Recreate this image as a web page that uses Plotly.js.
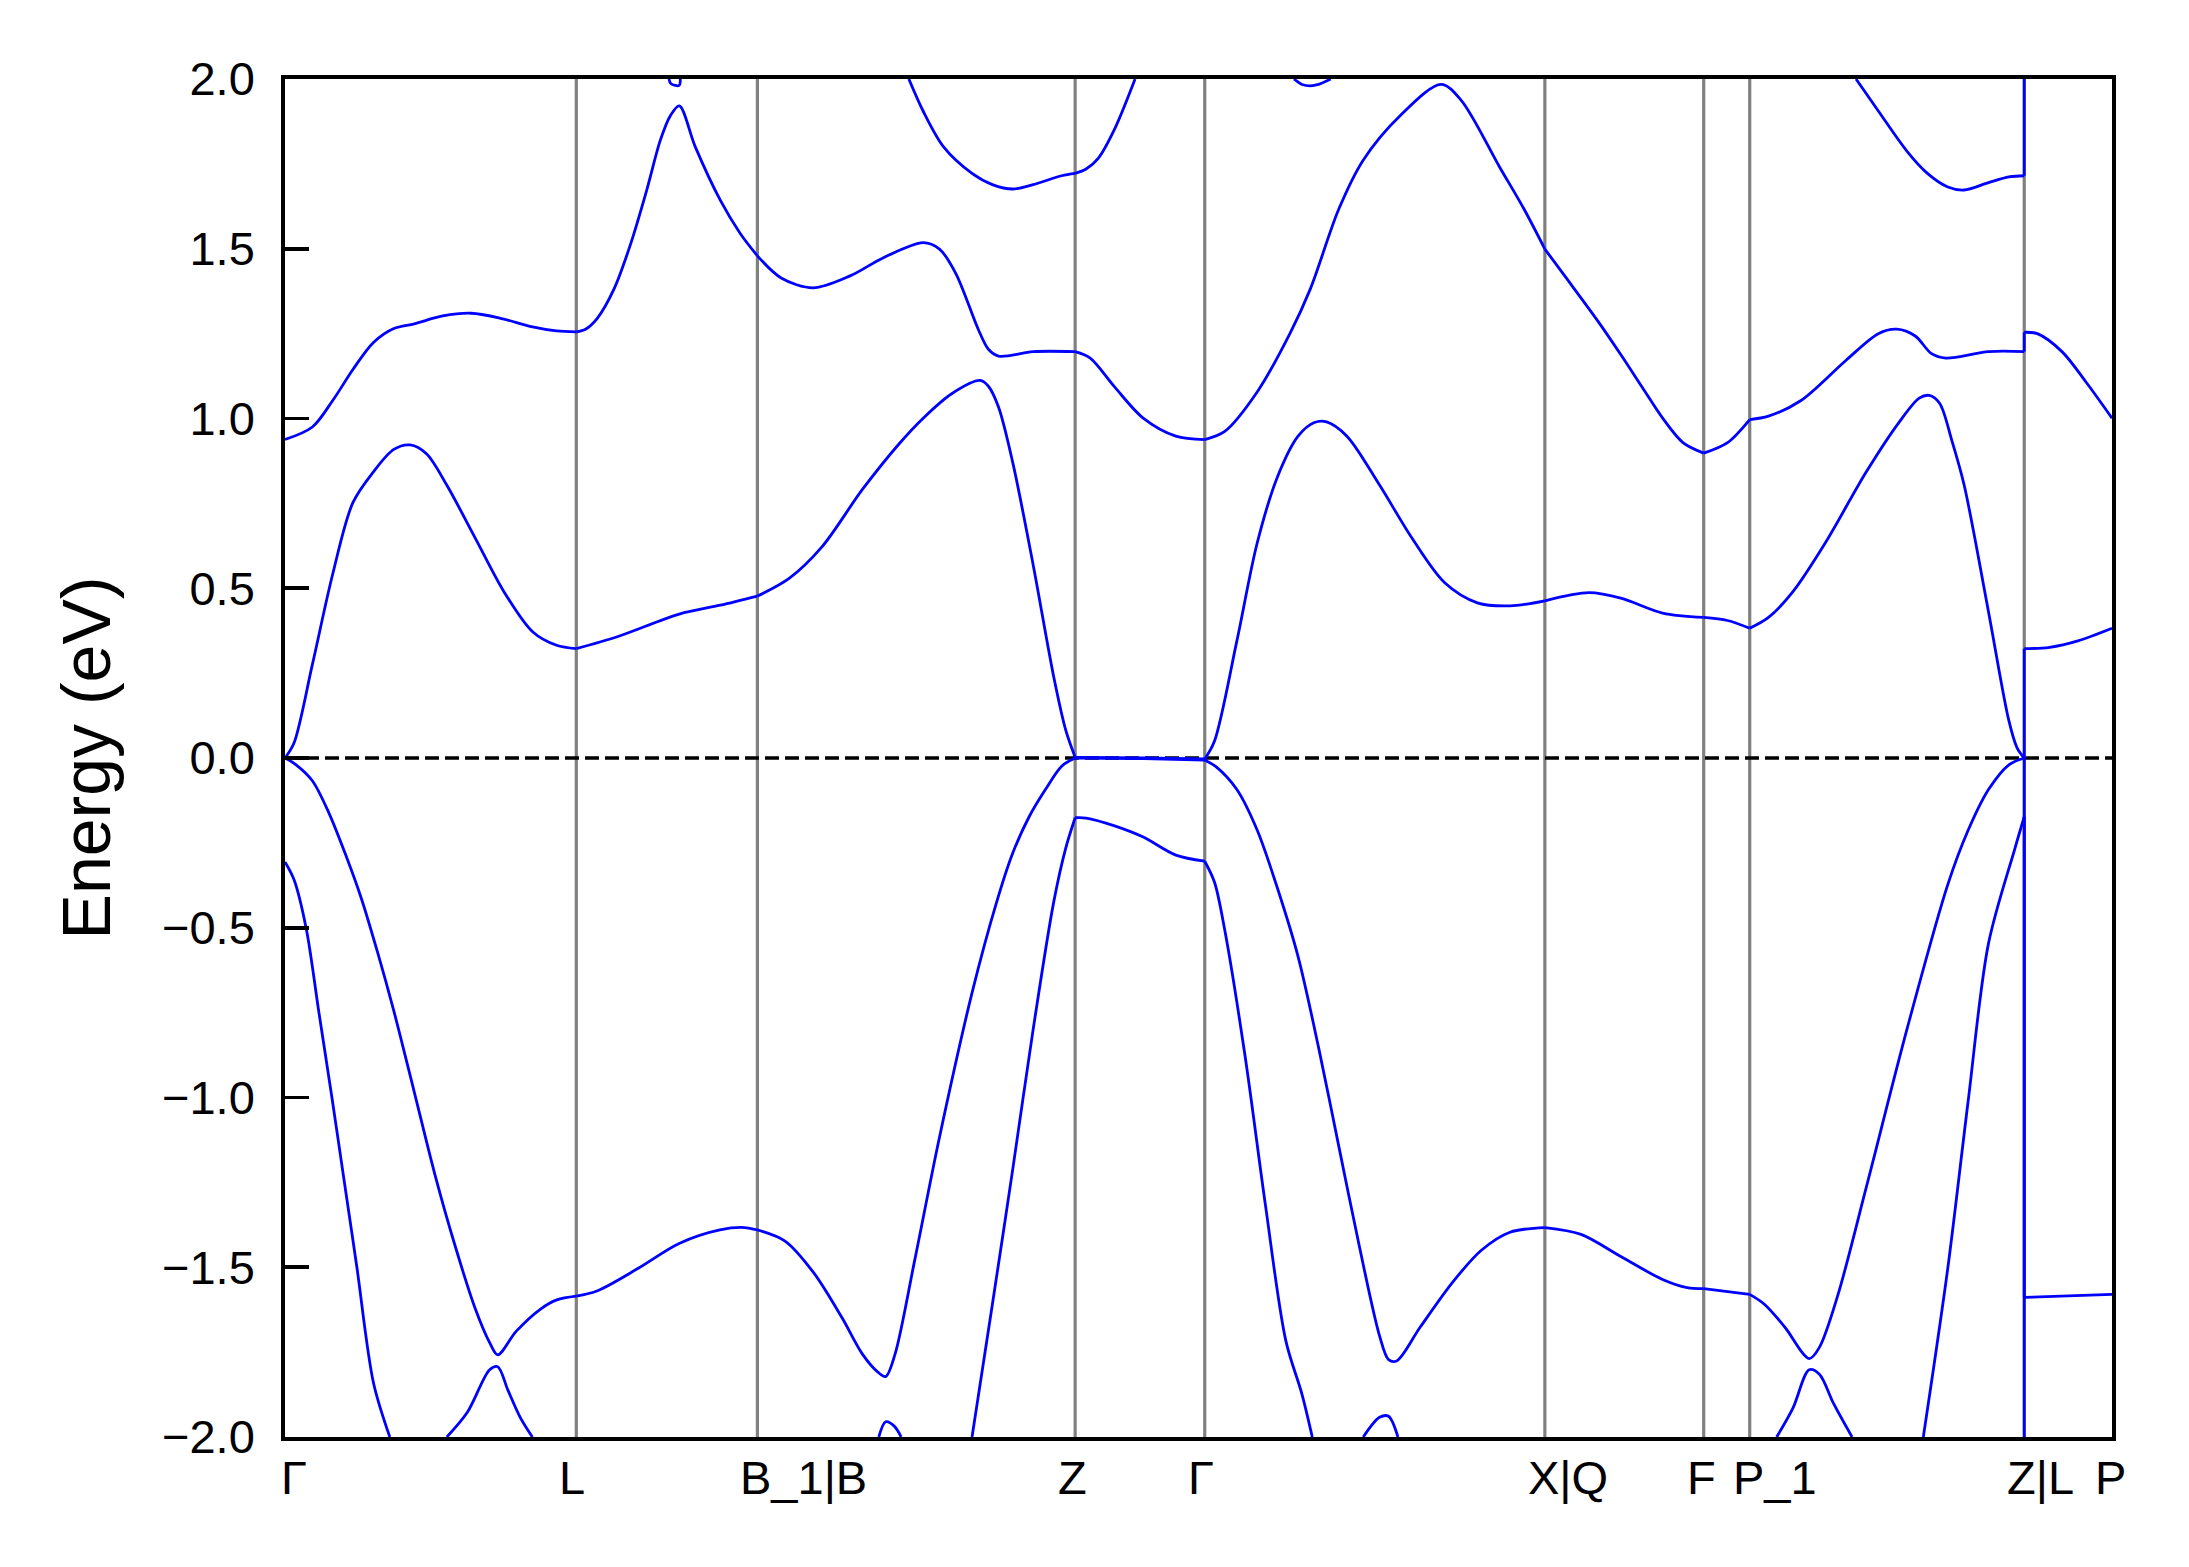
<!DOCTYPE html>
<html>
<head>
<meta charset="utf-8">
<script src="https://cdn.plot.ly/plotly-3.0.1.min.js"></script>
<style>html,body{margin:0;padding:0;background:#fff}#chart{width:2189px;height:1567px}</style>
</head>
<body>
<div id="chart"></div>
<script>
// High-symmetry k-points (path distance) and their labels
const kTicks = [0, 0.2918, 0.4732, 0.7915, 0.9213, 1.2620, 1.4211, 1.4672, 1.7422, 1.8301];
const kLabels = ["Γ", "L", "B_1|B", "Z", "Γ", "X|Q", "F", "P_1", "Z|L", "P"];

// Band energies (eV); null = band leaves the -2..2 eV window
const cb3K = [0.3846, 0.3866, 0.3948, 0.3960, null,
  0.6249, 0.6393, 0.6597, 0.6882, 0.7086, 0.729, 0.7495, 0.778, 0.7915, 0.8025, 0.8148, 0.8311, 0.8515, null,
  1.0107, 1.0188, 1.027, 1.0352, 1.0474, null,
  1.5737, 1.5962, 1.6248, 1.6452, 1.6656, 1.6819, 1.7064, 1.7268, 1.7422, 1.7422];
const cb3E = [2.0, 1.986, 1.981, 2.0, null,
  2.0, 1.905, 1.800, 1.722, 1.689, 1.676, 1.689, 1.715, 1.722, 1.735, 1.767, 1.853, 2.0, null,
  2.0, 1.984, 1.980, 1.984, 2.0, null,
  2.0, 1.905, 1.787, 1.722, 1.682, 1.673, 1.695, 1.712, 1.715, 2.0];

const cb2K = [0, 0.0274, 0.0478, 0.0682, 0.0886, 0.109, 0.1295, 0.158, 0.1866, 0.215, 0.248, 0.272, 0.2918,
  0.301, 0.313, 0.3295, 0.346, 0.362, 0.376, 0.386, 0.395, 0.411, 0.436, 0.456, 0.4732,
  0.497, 0.529, 0.566, 0.599, 0.6393, 0.6556, 0.672, 0.6944, 0.7046, 0.7148, 0.7495, 0.7915,
  0.8066, 0.831, 0.8597, 0.8923, 0.9213,
  0.9413, 0.974, 1.0066, 1.027, 1.0556, 1.08, 1.117, 1.158, 1.178, 1.2166, 1.2411, 1.262,
  1.2819, 1.3146, 1.339, 1.3595, 1.38, 1.4003, 1.4211, 1.445, 1.4672,
  1.486, 1.5186, 1.5635, 1.596, 1.6146, 1.633, 1.6493, 1.6635, 1.7064, 1.7422,
  1.7422, 1.7553, 1.78, 1.8044, 1.8301];
const cb2E = [0.938, 0.975, 1.053, 1.145, 1.224, 1.265, 1.279, 1.302, 1.310, 1.296, 1.270, 1.258, 1.255,
  1.263, 1.296, 1.381, 1.512, 1.669, 1.820, 1.892, 1.921, 1.800, 1.643, 1.545, 1.479,
  1.414, 1.385, 1.420, 1.473, 1.518, 1.499, 1.427, 1.263, 1.204, 1.184, 1.197, 1.197,
  1.178, 1.093, 1.001, 0.948, 0.938,
  0.962, 1.079, 1.250, 1.381, 1.617, 1.761, 1.892, 1.984, 1.938, 1.741, 1.617, 1.499,
  1.420, 1.289, 1.184, 1.092, 1.001, 0.929, 0.898, 0.929, 0.997,
  1.007, 1.053, 1.171, 1.250, 1.263, 1.243, 1.191, 1.178, 1.197, 1.197,
  1.254, 1.250, 1.197, 1.106, 1.001];

const cb1K = [0, 0.009, 0.0274, 0.0478, 0.068, 0.0886, 0.109, 0.1254, 0.1417, 0.162, 0.1907, 0.2193, 0.248, 0.272, 0.2918,
  0.3335, 0.395, 0.436, 0.4732,
  0.505, 0.5376, 0.5784, 0.615, 0.6393, 0.6678, 0.6964, 0.7046, 0.7148, 0.729, 0.7495, 0.7699, 0.782, 0.7915,
  0.86, 0.9213,
  0.9311, 0.9535, 0.9739, 0.9944, 1.0148, 1.0311, 1.0433, 1.0637, 1.0964, 1.129, 1.1617, 1.1944, 1.227, 1.262,
  1.3064, 1.339, 1.38, 1.4211, 1.445, 1.4672,
  1.486, 1.5105, 1.543, 1.584, 1.6166, 1.637, 1.647, 1.6574, 1.6697, 1.682, 1.706, 1.7268, 1.735, 1.7422,
  1.7422, 1.7676, 1.796, 1.8301];
const cb1E = [0, 0.044, 0.275, 0.542, 0.752, 0.843, 0.909, 0.922, 0.896, 0.804, 0.647, 0.490, 0.372, 0.332, 0.322,
  0.358, 0.424, 0.450, 0.477,
  0.529, 0.621, 0.791, 0.925, 1.001, 1.073, 1.112, 1.095, 1.033, 0.870, 0.568, 0.241, 0.083, 0.002,
  0.0, -0.003,
  0.05, 0.345, 0.634, 0.830, 0.948, 0.988, 0.990, 0.948, 0.804, 0.647, 0.516, 0.457, 0.448, 0.463,
  0.487, 0.470, 0.427, 0.414, 0.405, 0.382,
  0.414, 0.490, 0.634, 0.843, 0.988, 1.060, 1.068, 1.045, 0.935, 0.804, 0.437, 0.11, 0.03, 0.0,
  0.322, 0.326, 0.345, 0.382];

const vbK = [0, 0.0111, 0.0274, 0.0437, 0.0601, 0.0764, 0.0927, 0.109, 0.1295, 0.1499, 0.1703, 0.1907, 0.205, 0.2131,
  0.2315, 0.256, 0.2723, 0.2918,
  0.3131, 0.3539, 0.3948, 0.4356, 0.4601, 0.4732,
  0.5009, 0.5295, 0.558, 0.5784, 0.5939, 0.6017, 0.6111, 0.631, 0.6556, 0.6882, 0.7127, 0.729, 0.7454, 0.7617, 0.778, 0.7915,
  0.86, 0.9213,
  0.9331, 0.9535, 0.9739, 0.9944, 1.0148, 1.0352, 1.0556, 1.076, 1.0964, 1.1054, 1.1135, 1.1372, 1.1699, 1.1984, 1.227, 1.262,
  1.2982, 1.339, 1.3799, 1.4044, 1.4211, 1.4672,
  1.4819, 1.5023, 1.5268, 1.537, 1.5554, 1.584, 1.6248, 1.6656, 1.686, 1.7064, 1.7268, 1.7422,
  1.7422, 1.8301];
const vbE = [0, -0.020, -0.067, -0.160, -0.280, -0.413, -0.572, -0.745, -0.984, -1.224, -1.436, -1.623, -1.722, -1.758,
  -1.689, -1.623, -1.596, -1.585,
  -1.569, -1.503, -1.430, -1.390, -1.383, -1.390,
  -1.423, -1.516, -1.649, -1.756, -1.809, -1.822, -1.756, -1.476, -1.117, -0.692, -0.426, -0.280, -0.173, -0.093, -0.024, 0.0,
  -0.002, -0.006,
  -0.027, -0.093, -0.213, -0.386, -0.585, -0.851, -1.144, -1.436, -1.702, -1.772, -1.776, -1.676, -1.543, -1.450, -1.397, -1.383,
  -1.403, -1.470, -1.536, -1.560, -1.563, -1.580,
  -1.609, -1.676, -1.769, -1.736, -1.583, -1.264, -0.798, -0.373, -0.213, -0.093, -0.020, 0.0,
  -1.589, -1.580];

const vb1K = [0, 0.009, 0.0213, 0.034, 0.047, 0.0595, 0.072, 0.0886, 0.105, null,
  0.1621, 0.1825, 0.205, 0.2131, 0.2233, 0.2356, 0.2478, null,
  0.5948, 0.6017, 0.6103, 0.6172, null,
  0.6882, 0.7086, 0.729, 0.7495, 0.7699, 0.782, 0.7915, 0.8025, 0.831, 0.8597, 0.8923, 0.9213,
  0.9311, 0.9413, 0.9617, 0.9821, 1.0025, 1.0188, 1.029, null,
  1.0801, 1.0964, 1.1054, 1.1148, null,
  1.4942, 1.5105, 1.5268, 1.537, 1.5513, 1.5697, null,
  1.6411, 1.6656, 1.686, 1.7064, 1.7329, 1.7422, 1.7422];
const vb1E = [-0.306, -0.358, -0.503, -0.75, -1.00, -1.25, -1.50, -1.84, -2.0, null,
  -2.0, -1.928, -1.802, -1.793, -1.862, -1.942, -2.0, null,
  -2.0, -1.955, -1.968, -2.0, null,
  -2.0, -1.609, -1.211, -0.798, -0.426, -0.266, -0.176, -0.177, -0.200, -0.233, -0.286, -0.304,
  -0.366, -0.506, -0.878, -1.317, -1.716, -1.875, -2.0, null,
  -2.0, -1.942, -1.939, -2.0, null,
  -2.0, -1.915, -1.802, -1.815, -1.902, -2.0, null,
  -2.0, -1.503, -1.011, -0.546, -0.266, -0.173, -2.0];

const FONT = 'Liberation Sans, Arial, Helvetica, sans-serif';
const BLUE = '#0000ff';
const bands = [[cb3K, cb3E], [cb2K, cb2E], [cb1K, cb1E], [vbK, vbE], [vb1K, vb1E]];
const innerTicks = kTicks.slice(1, -1);

// Each band: smooth runs per path segment (spline, split at high-symmetry points),
// plus straight jumps where the path is discontinuous (Z|L).
const traces = [];
const jumpX = [], jumpY = [];
bands.forEach(([k, e]) => {
  const sx = [], sy = [];
  for (let i = 0; i < k.length; i++) {
    if (i > 0 && k[i] !== null && k[i - 1] !== null && k[i] === k[i - 1]) {
      jumpX.push(k[i - 1], k[i], null);
      jumpY.push(e[i - 1], e[i], null);
      sx.push(null); sy.push(null);
    }
    sx.push(k[i]); sy.push(e[i]);
    const nextOk = i < k.length - 1 && k[i + 1] !== null && k[i + 1] !== k[i];
    if (k[i] !== null && innerTicks.includes(k[i]) && nextOk) {
      sx.push(null, k[i]); sy.push(null, e[i]);
    }
  }
  traces.push({
    x: sx, y: sy, type: 'scatter', mode: 'lines', connectgaps: false,
    line: {color: BLUE, width: 2.8, shape: 'spline', smoothing: 0.9},
    hoverinfo: 'skip', showlegend: false
  });
});
traces.push({
  x: jumpX, y: jumpY, type: 'scatter', mode: 'lines', connectgaps: false,
  line: {color: BLUE, width: 2.8}, hoverinfo: 'skip', showlegend: false
});

const shapes = [];
innerTicks.forEach(k => shapes.push({
  type: 'line', xref: 'x', yref: 'paper', x0: k, x1: k, y0: 0, y1: 1,
  line: {color: '#808080', width: 3.2}, layer: 'below'
}));
shapes.push({
  type: 'line', xref: 'paper', yref: 'y', x0: 0, x1: 1, y0: 0, y1: 0,
  line: {color: '#000000', width: 3.4, dash: '14px,6px'}, layer: 'below'
});

const annotations = kLabels.map((t, i) => ({
  x: kTicks[i], xref: 'x', y: 0, yref: 'paper', text: t, showarrow: false,
  xanchor: 'left', yanchor: 'top', xshift: i === 0 ? -6 : -19, yshift: -12,
  font: {family: FONT, size: 47, color: '#000000'}
}));

const layout = {
  width: 2189, height: 1567,
  margin: {l: 285, r: 77, t: 79, b: 130},
  paper_bgcolor: '#ffffff', plot_bgcolor: '#ffffff',
  showlegend: false,
  xaxis: {
    range: [0, kTicks[kTicks.length - 1]], showgrid: false, zeroline: false,
    showticklabels: false, ticks: '', showline: true, mirror: true,
    linecolor: '#000000', linewidth: 3.8, automargin: false
  },
  yaxis: {
    range: [-2, 2], tick0: -2, dtick: 0.5, tickformat: '.1f',
    ticks: 'inside', ticklen: 24, tickwidth: 3.8, tickcolor: '#000000',
    showgrid: false, zeroline: false, showline: true, mirror: true,
    linecolor: '#000000', linewidth: 3.8, automargin: false,
    tickfont: {family: FONT, size: 47, color: '#000000'},
    ticklabelstandoff: 17,
    title: {text: 'Energy (eV)', font: {family: FONT, size: 68, color: '#000000'}, standoff: 30}
  },
  shapes: shapes,
  annotations: annotations
};

Plotly.newPlot('chart', traces, layout, {staticPlot: true, displayModeBar: false});
</script>
</body>
</html>
